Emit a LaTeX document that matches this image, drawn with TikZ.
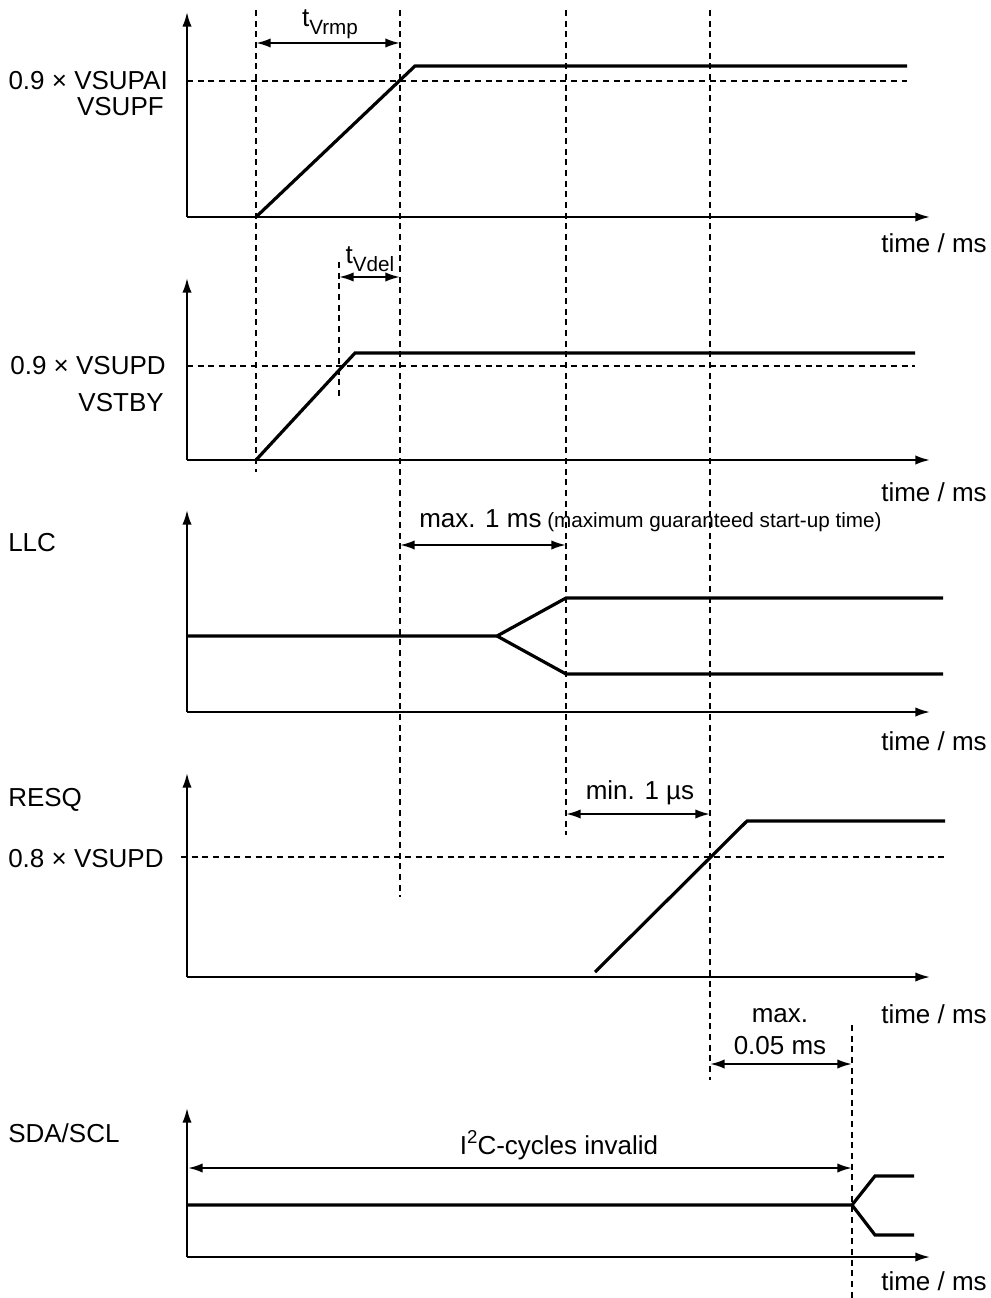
\documentclass[tikz,border=0pt]{standalone}
\usepackage{fontspec}
\setmainfont{Liberation Sans}
\usetikzlibrary{arrows.meta}
\begin{document}
\begin{tikzpicture}[x=0.75pt,y=-0.75pt,
 tip/.style={-{Latex[length=11pt,width=7pt]}},
 axis/.style={line width=1.5pt,tip},
 sig/.style={line width=2.4pt,line join=miter},
 guide/.style={line width=1.3pt,dash pattern=on 4.5pt off 3.5pt},
 dim/.style={line width=1.6pt,{Latex[length=11pt,width=7pt]}-{Latex[length=11pt,width=7pt]}},
 lbl/.style={inner sep=0pt,font=\fontsize{19.5}{22}\selectfont},
 small/.style={inner sep=0pt,font=\fontsize{15.5}{18}\selectfont}]
\useasboundingbox (0,0) rectangle (991,1298);

% ---------- vertical guide lines ----------
\draw[guide] (256,10) -- (256,472);
\draw[guide] (400,10) -- (400,897);
\draw[guide] (566,10) -- (566,835);
\draw[guide] (710,10) -- (710,1080);
\draw[guide] (852,1025) -- (852,1298);
\draw[guide] (339,262) -- (339,398);

% ---------- panel 1 ----------
\coordinate (o1) at (187,217);
\draw[axis] (o1) -- (187,12);
\draw[axis] (o1) -- (930,217);
\draw[guide] (187,81) -- (907,81);
\draw[sig] (256,217) -- (415,66) -- (907,66);
\coordinate (r1a) at (256,43);
\coordinate (r1b) at (400,43);
\draw[dim] (r1a) -- (r1b);
\node[lbl] (trmp) at (330,24) {t\raisebox{-6pt}{\fontsize{15.5}{18}\selectfont Vrmp}};
\node[lbl,anchor=east] (l1a) at (168,81) {0.9 × VSUPAI};
\node[lbl,anchor=east] (l1b) at (164,107) {VSUPF};
\node[lbl] (t1) at (934,243) {time / ms};

% ---------- panel 2 ----------
\coordinate (o2) at (187,460);
\draw[axis] (o2) -- (187,278);
\draw[axis] (o2) -- (930,460);
\draw[guide] (187,366) -- (915,366);
\draw[sig] (256,460) -- (355,353) -- (915,353);
\coordinate (d2a) at (339,277);
\coordinate (d2b) at (400,277);
\draw[dim] (d2a) -- (d2b);
\node[lbl] (tdel) at (370,259) {t\raisebox{-6pt}{\fontsize{15.5}{18}\selectfont Vdel}};
\node[lbl,anchor=east] (l2a) at (166,366) {0.9 × VSUPD};
\node[lbl,anchor=east] (l2b) at (164,403) {VSTBY};
\node[lbl] (t2) at (934,492) {time / ms};

% ---------- panel 3 (LLC) ----------
\coordinate (o3) at (187,712);
\draw[axis] (o3) -- (187,510);
\draw[axis] (o3) -- (930,712);
\draw[sig] (187,636) -- (497,636) -- (566,598) -- (943,598);
\draw[sig] (497,636) -- (566,674) -- (943,674);
\coordinate (d3a) at (400,545);
\coordinate (d3b) at (566,545);
\draw[dim] (d3a) -- (d3b);
\node[lbl,anchor=base west] (m1) at (419,527) {max. 1 ms};
\node[small,anchor=base west] (m1b) at (547,527) {(maximum guaranteed start-up time)};
\node[lbl,anchor=west] (llc) at (8,543) {LLC};
\node[lbl] (t3) at (934,741) {time / ms};

% ---------- panel 4 (RESQ) ----------
\coordinate (o4) at (187,977);
\draw[axis] (o4) -- (187,773);
\draw[axis] (o4) -- (930,977);
\draw[guide] (181,857) -- (945,857);
\draw[sig] (595,972) -- (747,821) -- (945,821);
\coordinate (d4a) at (566,814);
\coordinate (d4b) at (710,814);
\draw[dim] (d4a) -- (d4b);
\node[lbl] (mn) at (640,793) {min. 1 µs};
\node[lbl,anchor=west] (resq) at (8,800) {RESQ};
\node[lbl,anchor=west] (l4) at (8,859) {0.8 × VSUPD};
\node[lbl] (t4) at (934,1014) {time / ms};
\coordinate (d5a) at (710,1064);
\coordinate (d5b) at (852,1064);
\draw[dim] (d5a) -- (d5b);
\node[lbl] (mx) at (780,1016) {max.};
\node[lbl] (mx2) at (780,1046) {0.05 ms};

% ---------- panel 5 (SDA/SCL) ----------
\coordinate (o5) at (187,1257);
\draw[axis] (o5) -- (187,1108);
\draw[axis] (o5) -- (930,1257);
\draw[sig] (187,1205) -- (852,1205) -- (875,1176) -- (914,1176);
\draw[sig] (852,1205) -- (875,1235) -- (914,1235);
\coordinate (d6a) at (188,1168);
\coordinate (d6b) at (852,1168);
\draw[dim] (d6a) -- (d6b);
\node[lbl] (i2c) at (559,1145) {I\raisebox{8pt}{\fontsize{14}{16}\selectfont 2}C-cycles invalid};
\node[lbl,anchor=west] (sda) at (8,1133) {SDA/SCL};
\node[lbl] (t5) at (934,1281) {time / ms};
\end{tikzpicture}
\end{document}
